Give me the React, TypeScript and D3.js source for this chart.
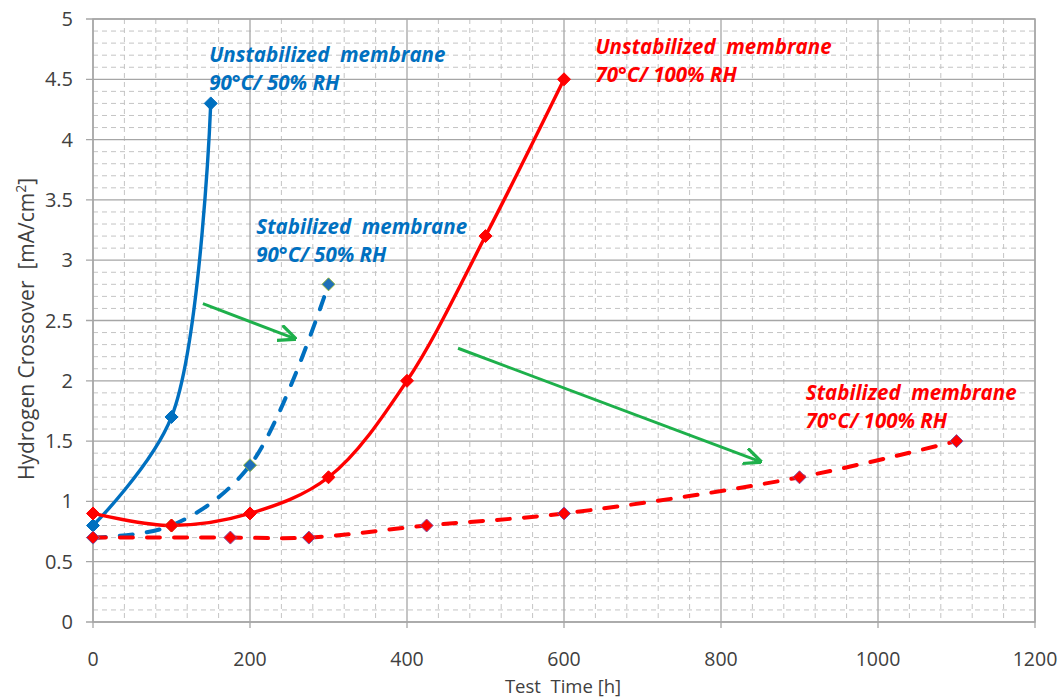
import React from "react";
import * as d3 from "d3";

const blueSolidX = [0, 100, 150];
const blueSolidY = [0.8, 1.7, 4.3];
const blueDashX = [0, 100, 200, 300];
const blueDashY = [0.7, 0.8, 1.3, 2.8];
const redSolidX = [0, 100, 200, 300, 400, 500, 600];
const redSolidY = [0.9, 0.8, 0.9, 1.2, 2.0, 3.2, 4.5];
const redDashX = [0, 175, 275, 425, 600, 900, 1100];
const redDashY = [0.7, 0.7, 0.7, 0.8, 0.9, 1.2, 1.5];

const xTicks = [0, 200, 400, 600, 800, 1000, 1200];
const yTicks = [0, 0.5, 1, 1.5, 2, 2.5, 3, 3.5, 4, 4.5, 5];
const yTickLabels = ["0", "0.5", "1", "1.5", "2", "2.5", "3", "3.5", "4", "4.5", "5"];

const arrows = [
  { x1: 140, y1: 2.64, x2: 257, y2: 2.35 },
  { x1: 465, y1: 2.27, x2: 850, y2: 1.33 },
];

const labels = [
  { x: 148, y: 4.64, l1: "Unstabilized  membrane", l2: "90°C/ 50% RH", color: "#0070C0" },
  { x: 208, y: 3.22, l1: "Stabilized  membrane", l2: "90°C/ 50% RH", color: "#0070C0" },
  { x: 640, y: 4.71, l1: "Unstabilized  membrane", l2: "70°C/ 100% RH", color: "#FF0000" },
  { x: 908, y: 1.84, l1: "Stabilized  membrane", l2: "70°C/ 100% RH", color: "#FF0000" },
];

const W = 1063, H = 699;
const M = { left: 93, right: 1035, top: 19, bottom: 622 };

export default function App() {
  const x = d3.scaleLinear().domain([0, 1200]).range([M.left, M.right]);
  const y = d3.scaleLinear().domain([0, 5]).range([M.bottom, M.top]);
  const line = d3
    .line<[number, number]>()
    .x((d) => x(d[0]))
    .y((d) => y(d[1]))
    .curve(d3.curveCatmullRom.alpha(0.5));
  const zip = (a: number[], b: number[]) => a.map((v, i) => [v, b[i]] as [number, number]);

  const minorX = d3.range(0, 1201, 40).filter((v) => v % 200 !== 0);
  const minorY = d3.range(0, 51, 1).map((v) => v / 10).filter((v, i) => i % 5 !== 0);

  const diamond = (cx: number, cy: number, r: number) =>
    `M${cx},${cy - r}L${cx + r},${cy}L${cx},${cy + r}L${cx - r},${cy}Z`;

  const series = [
    { xs: blueSolidX, ys: blueSolidY, color: "#0070C0", dash: null, mfill: "#0070C0", mstroke: "#0070C0" },
    { xs: blueDashX, ys: blueDashY, color: "#0070C0", dash: "13,14", mfill: "#1F6FB8", mstroke: "#8DB33A" },
    { xs: redSolidX, ys: redSolidY, color: "#FF0000", dash: null, mfill: "#FF0000", mstroke: "#FF0000" },
    { xs: redDashX, ys: redDashY, color: "#FF0000", dash: "13,14", mfill: "#FF0000", mstroke: "#8050A0" },
  ];

  const font = "'Open Sans', 'Liberation Sans', sans-serif";
  const pre = { whiteSpace: "pre" as const };

  return (
    <svg width={W} height={H} style={{ position: "absolute", left: 0, top: 0, background: "#fff" }} fontFamily={font}>
      <defs>
        <marker id="ah" viewBox="0 0 10 10" refX="9" refY="5" markerWidth="6" markerHeight="6" orient="auto" markerUnits="strokeWidth">
          <path d="M0,0.5L10,5L0,9.5" fill="none" stroke="#1EB04B" strokeWidth="1.8" />
        </marker>
      </defs>
      <rect x={0} y={0} width={W} height={H} fill="#fff" />
      {minorX.map((v) => (
        <line key={"mx" + v} x1={x(v)} x2={x(v)} y1={M.top} y2={M.bottom} stroke="#c4c4c4" strokeWidth={1} strokeDasharray="5,4" />
      ))}
      {minorY.map((v) => (
        <line key={"my" + v} x1={M.left} x2={M.right} y1={y(v)} y2={y(v)} stroke="#c4c4c4" strokeWidth={1} strokeDasharray="5,4" />
      ))}
      {xTicks.map((v) => (
        <line key={"gx" + v} x1={x(v)} x2={x(v)} y1={M.top} y2={M.bottom + 6} stroke="#a6a6a6" strokeWidth={1.3} />
      ))}
      {yTicks.map((v) => (
        <line key={"gy" + v} x1={M.left - 7} x2={M.right} y1={y(v)} y2={y(v)} stroke="#a6a6a6" strokeWidth={1.3} />
      ))}
      <rect x={M.left} y={M.top} width={M.right - M.left} height={M.bottom - M.top} fill="none" stroke="#a6a6a6" strokeWidth={1.5} />
      {xTicks.map((v) => (
        <text key={"tx" + v} x={x(v)} y={666} textAnchor="middle" fontSize={19.5} fill="#404040">{v}</text>
      ))}
      {yTicks.map((v, i) => (
        <text key={"ty" + v} x={73} y={y(v) + 7} textAnchor="end" fontSize={20} fill="#404040">{yTickLabels[i]}</text>
      ))}
      <text x={563} y={693} textAnchor="middle" fontSize={18.5} fill="#404040" style={pre}>Test  Time [h]</text>
      <text transform={`translate(34,${329}) rotate(-90)`} textAnchor="middle" fontSize={21} fill="#404040" style={pre}>
        Hydrogen Crossover  [mA/cm<tspan dy={-8} fontSize={14}>2</tspan><tspan dy={8}>]</tspan>
      </text>
      {series.map((s, i) => (
        <path key={"l" + i} d={line(zip(s.xs, s.ys)) || ""} fill="none" stroke={s.color}
          strokeWidth={s.dash ? 4 : 3.4} strokeLinecap={s.dash ? "round" : "butt"} strokeDasharray={s.dash || undefined} />
      ))}
      {series.map((s, i) =>
        s.xs.map((v, j) => (
          <path key={"m" + i + "_" + j} d={diamond(x(v), y(s.ys[j]), 6.5)} fill={s.mfill} stroke={s.mstroke} strokeWidth={1} />
        ))
      )}
      {arrows.map((a, i) => (
        <line key={"a" + i} x1={x(a.x1)} y1={y(a.y1)} x2={x(a.x2)} y2={y(a.y2)} stroke="#1EB04B" strokeWidth={3} markerEnd="url(#ah)" />
      ))}
      {labels.map((l, i) => (
        <g key={"lb" + i} fill={l.color} fontWeight="bold" fontStyle="italic" fontSize={20.5}>
          <text x={x(l.x)} y={y(l.y)} style={pre}>{l.l1}</text>
          <text x={x(l.x)} y={y(l.y) + 28} style={pre}>{l.l2}</text>
        </g>
      ))}
    </svg>
  );
}
